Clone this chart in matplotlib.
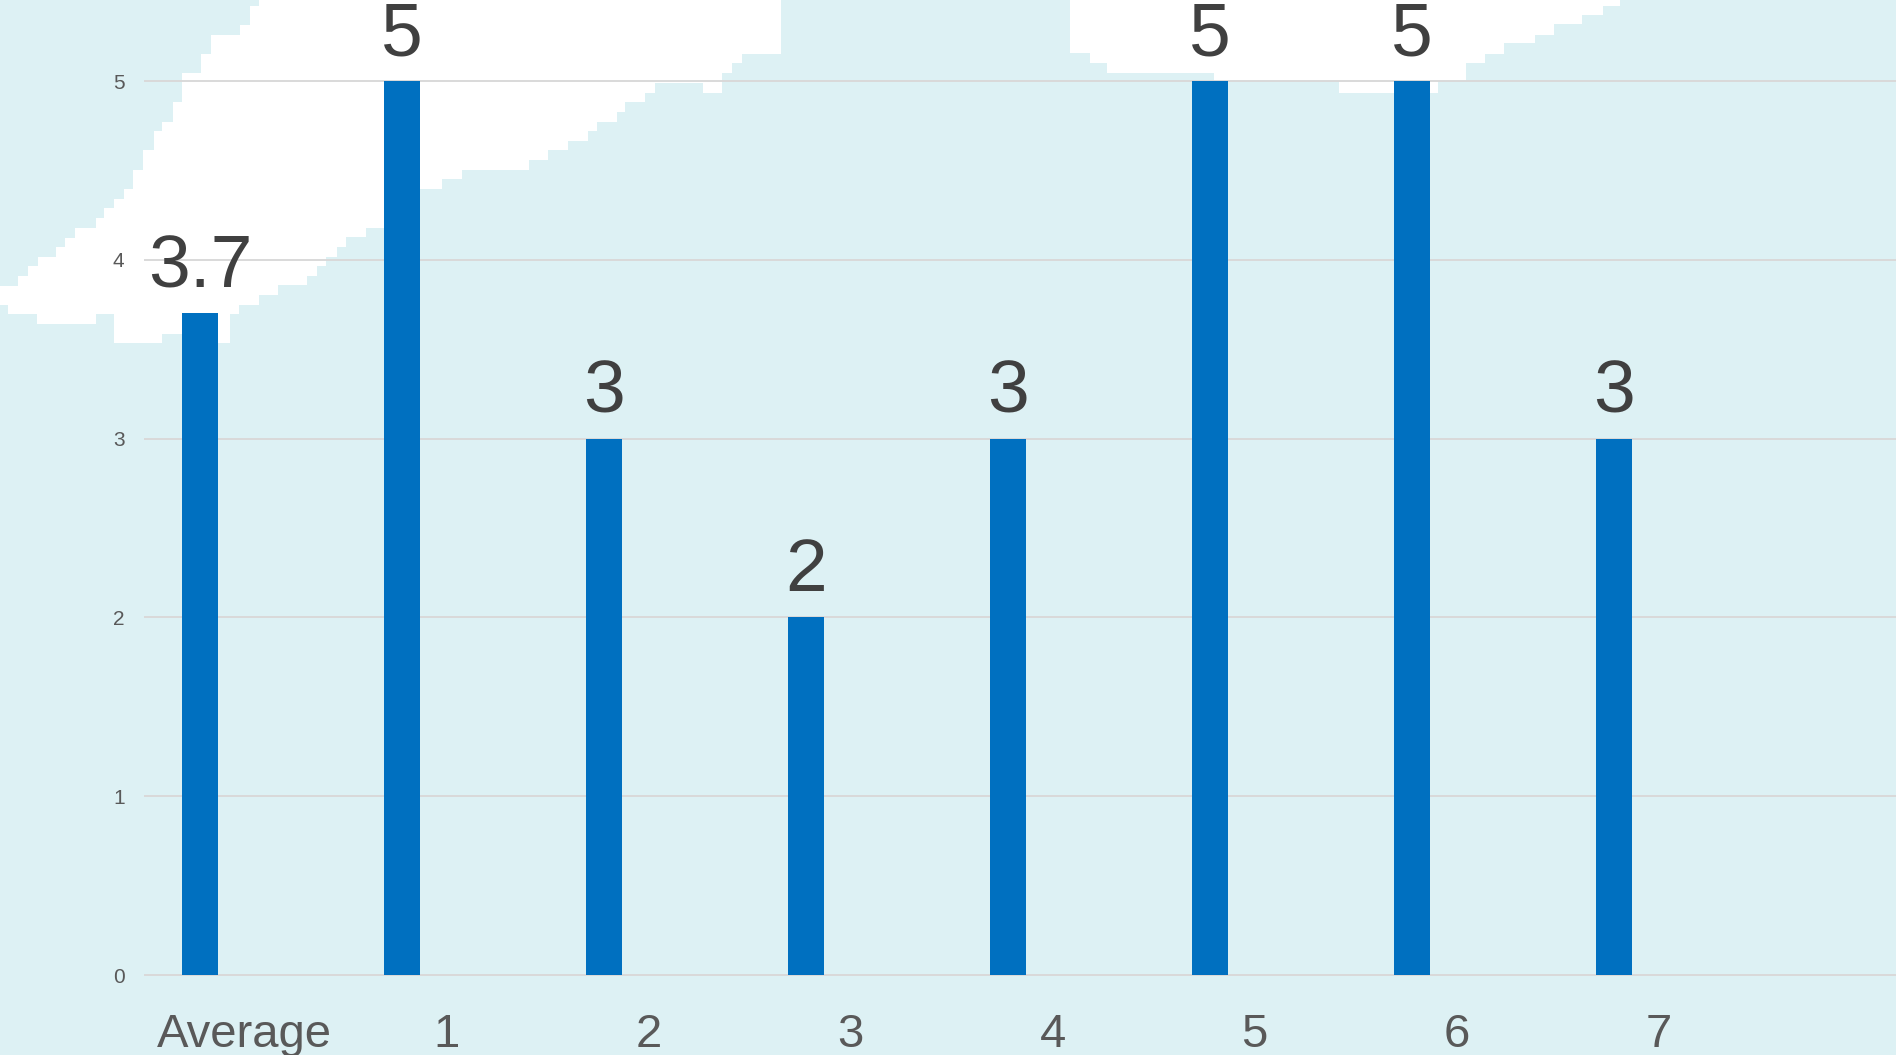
import numpy as np
import matplotlib
matplotlib.use("Agg")
import matplotlib.pyplot as plt
from matplotlib.patches import Polygon

# ---- data ----
categories = ["Average", "1", "2", "3", "4", "5", "6", "7"]
values = [3.7, 5, 3, 2, 3, 5, 5, 3]
value_labels = ["3.7", "5", "3", "2", "3", "5", "5", "3"]
y_ticks = [0, 1, 2, 3, 4, 5]

# ---- style ----
BG = "#DDF1F4"
BAR = "#0070C0"
GRID = "#D9D9D9"
TICK_COLOR = "#595959"
LABEL_COLOR = "#404040"
plt.rcParams["font.family"] = ["Liberation Sans", "DejaVu Sans"]

W, H = 1896, 1055

# white background shapes (decoration, figure pixel coords)
shape_left = [
    (259, 0), (781, 0), (781, 54), (751, 54), (742, 63), (732, 73), (722, 83),
    (722, 93), (703, 93), (703, 83), (665, 83), (655, 93), (645, 102), (625, 112),
    (617, 122), (597, 131), (588, 141), (568, 150), (548, 160), (529, 170),
    (462, 179), (442, 189), (420, 199), (385, 228), (375, 228), (366, 237),
    (346, 247), (337, 257), (326, 266), (317, 276), (307, 285), (278, 295),
    (259, 305), (239, 314), (230, 324), (230, 343), (218, 343), (183, 334),
    (162, 334), (162, 343), (124, 343), (114, 314), (96, 314), (96, 324),
    (47, 324), (37, 314), (8, 305), (0, 305), (0, 286), (18, 276), (28, 266),
    (38, 257), (56, 247), (65, 238), (75, 228), (96, 218), (104, 208),
    (114, 199), (124, 189), (133, 170), (143, 150), (154, 131), (162, 122),
    (173, 102), (182, 73), (201, 54), (211, 35), (240, 25), (250, 6),
]
shape_right = [
    (1070, 0), (1650, 0), (1620, 6), (1603, 15), (1582, 24), (1554, 35),
    (1535, 43), (1504, 54), (1485, 63), (1466, 73), (1466, 81), (1438, 81),
    (1438, 93), (1339, 93), (1339, 81), (1214, 81), (1214, 73), (1127, 73),
    (1107, 63), (1090, 53), (1070, 43),
]


def stairs(pts):
    out = []
    n = len(pts)
    for i in range(n):
        x0, y0 = pts[i]
        x1, y1 = pts[(i + 1) % n]
        out.append((x0, y0))
        if x0 != x1 and y0 != y1:
            out.append((x1, y0))
    return out


fig = plt.figure(figsize=(W / 100, H / 100), dpi=100, facecolor=BG)
for shp in (shape_left, shape_right):
    fig.add_artist(Polygon([(px / W, 1 - py / H) for px, py in stairs(shp)],
                           closed=True, transform=fig.transFigure,
                           facecolor="white", edgecolor="none", zorder=-1))

ax = fig.add_axes([144 / W, (H - 984) / H, 1 - 144 / W, 984 / H])
ax.set_zorder(1)
ax.set_facecolor("none")

x = np.arange(len(categories))
bar_x = x - 0.22
ax.bar(bar_x, values, width=0.176, color=BAR, zorder=3)

ax.set_xlim(-0.4985, 8.175)
ax.set_ylim(-0.05, 5.453)
ax.set_yticks(y_ticks)
ax.yaxis.grid(True, color=GRID, linewidth=1.4)
ax.set_axisbelow(True)
for s in ax.spines.values():
    s.set_visible(False)
ax.tick_params(axis="y", length=0, pad=14, labelsize=15, labelcolor=TICK_COLOR)
ax.set_xticks(x)
ax.set_xticklabels(categories)
ax.tick_params(axis="x", length=0, pad=21, labelsize=34, labelcolor=TICK_COLOR)

for bx, v, lab in zip(bar_x, values, value_labels):
    ax.annotate(lab, (bx, v), xytext=(0, 18.7), textcoords="offset points",
                ha="center", va="baseline", fontsize=54, color=LABEL_COLOR,
                annotation_clip=False)

fig.savefig("out.png", dpi=100, facecolor=BG)
